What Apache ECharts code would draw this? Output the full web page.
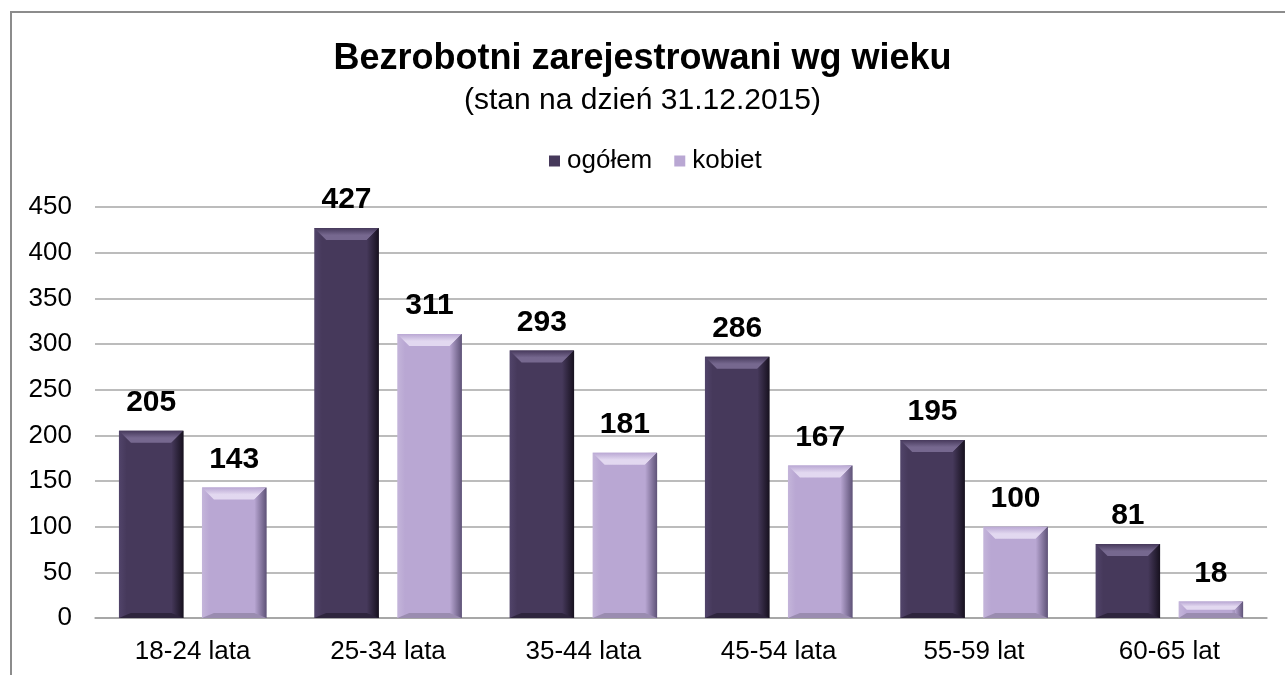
<!DOCTYPE html>
<html>
<head>
<meta charset="utf-8">
<script src="https://cdn.jsdelivr.net/npm/echarts@6/dist/echarts.min.js"></script>
<style>
  html, body { margin: 0; padding: 0; background: #fff; overflow: hidden; }
  #frame {
    position: absolute; left: 10px; top: 11px; width: 1400px; height: 800px;
    border-left: 2px solid #8c8c8c; border-top: 2px solid #8c8c8c;
  }
  #chart_wiek { position: absolute; left: 0; top: 0; width: 1285px; height: 675px; }
</style>
</head>
<body>
<div id="frame"></div>
<div id="chart_wiek"></div>
<script>
var categories = ["18-24 lata", "25-34 lata", "35-44 lata", "45-54 lata", "55-59 lat", "60-65 lat"];
var ogolem = [205, 427, 293, 286, 195, 81];
var kobiet = [143, 311, 181, 167, 100, 18];
var yTicks = { min: 0, max: 450, interval: 50 };

// kolory słupków: podstawa, skos górny, krawędź lewa, krawędź prawa, dół
var palette = {
  "ogółem": { base: "#46395b", top: "#76688f", left: "#51446a", right: "#17111f", bottom: "#2e253d" },
  "kobiet": { base: "#b9a7d3", top: "#e2d8f0", left: "#c4b5da", right: "#5f5378", bottom: "#9a8cb0" }
};

var chart_wiek = echarts.init(document.getElementById("chart_wiek"));

function bevelBar(name, side) {
  var c = palette[name];
  return function (params, api) {
    var idx = api.value(0);
    var val = api.value(1);
    var center = api.coord([idx, val]);
    var zero = api.coord([idx, 0]);
    var band = api.size([1, 0])[0];
    var w = band * 0.33;
    var cx = center[0] + side * band * 0.2125;
    var x = cx - w / 2;
    var y = center[1];
    var h = zero[1] - y;
    var b = Math.min(12, h / 2);
    var bb = Math.min(5, h / 3);
    return {
      type: "group",
      children: [
        { type: "rect", shape: { x: x, y: y, width: w, height: h },
          style: { fill: new echarts.graphic.LinearGradient(0, 0, 1, 0, [
            { offset: 0, color: c.left }, { offset: 0.12, color: c.base },
            { offset: 0.82, color: c.base }, { offset: 1, color: c.right }]) } },
        { type: "polygon", shape: { points: [[x, y], [x + w, y], [x + w - b, y + b], [x + b, y + b]] },
          style: { fill: new echarts.graphic.LinearGradient(0, 0, 0, 1, [
            { offset: 0, color: c.base }, { offset: 0.6, color: c.top }, { offset: 1, color: c.top }]) } },
        { type: "polygon", shape: { points: [[x + w, y], [x + w, y + h], [x + w - b, y + h - bb], [x + w - b, y + b]] },
          style: { fill: new echarts.graphic.LinearGradient(0, 0, 1, 0, [
            { offset: 0, color: c.base }, { offset: 1, color: c.right }]) } },
        { type: "polygon", shape: { points: [[x, y + h], [x + w, y + h], [x + w - b, y + h - bb], [x + b, y + h - bb]] },
          style: { fill: c.bottom } },
        { type: "text", style: { text: String(val), x: cx, y: y - 13, align: "center", verticalAlign: "bottom",
          fill: "#000", font: "bold 30px 'Liberation Sans', Arial, sans-serif" } }
      ]
    };
  };
}

function makeData(arr) {
  return arr.map(function (v, i) { return [i, v]; });
}

var option = {
  animation: false,
  textStyle: { fontFamily: "'Liberation Sans', Arial, sans-serif" },
  title: [
    { text: "Bezrobotni zarejestrowani wg wieku", left: "center", top: 36,
      textStyle: { fontSize: 36, fontWeight: "bold", color: "#000" } },
    { text: "(stan na dzień 31.12.2015)", left: "center", top: 81,
      textStyle: { fontSize: 30, fontWeight: "normal", color: "#000" } }
  ],
  legend: {
    top: 143, left: 544,
    itemWidth: 11, itemHeight: 11, itemGap: 22,
    icon: "rect",
    textStyle: { fontSize: 26, color: "#000", padding: [0, 0, 0, 2] },
    data: [
      { name: "ogółem", itemStyle: { color: palette["ogółem"].base } },
      { name: "kobiet", itemStyle: { color: palette["kobiet"].base } }
    ]
  },
  grid: { left: 95, right: 18, top: 207, bottom: 57 },
  xAxis: {
    type: "category",
    data: categories,
    axisTick: { show: false },
    axisLine: { lineStyle: { color: "#a0a0a0", width: 1.5 } },
    axisLabel: { color: "#000", fontSize: 26, margin: 21 }
  },
  yAxis: {
    type: "value",
    min: yTicks.min, max: yTicks.max, interval: yTicks.interval,
    axisLine: { show: false },
    axisTick: { show: false },
    axisLabel: { color: "#000", fontSize: 26, margin: 23 },
    splitLine: { lineStyle: { color: "#a6a6a6", width: 1.5 } }
  },
  series: [
    { name: "ogółem", type: "custom", renderItem: bevelBar("ogółem", -1),
      itemStyle: { color: palette["ogółem"].base },
      encode: { x: 0, y: 1 }, data: makeData(ogolem) },
    { name: "kobiet", type: "custom", renderItem: bevelBar("kobiet", 1),
      itemStyle: { color: palette["kobiet"].base },
      encode: { x: 0, y: 1 }, data: makeData(kobiet) }
  ]
};

chart_wiek.setOption(option);
</script>
</body>
</html>
